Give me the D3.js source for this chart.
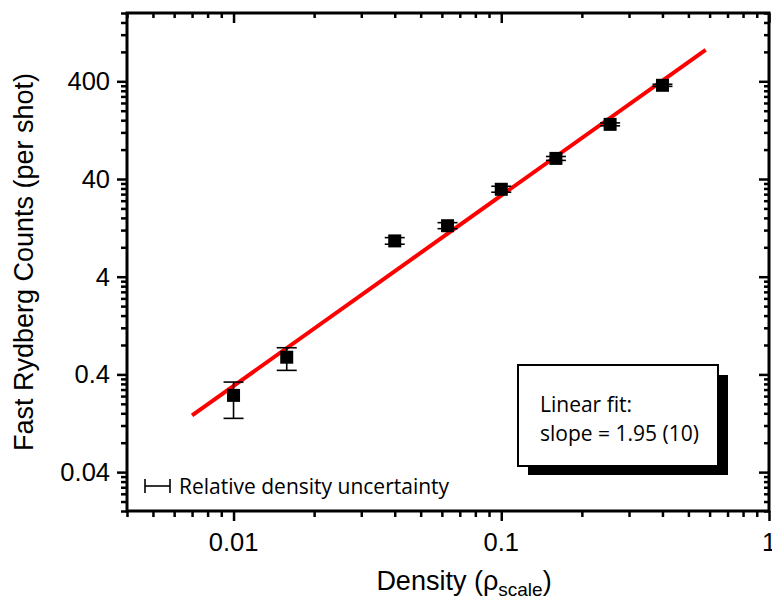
<!DOCTYPE html>
<head>
  <meta charset="utf-8">
  <script src="https://d3js.org/d3.v7.min.js"></script>
  <style>
    body { margin: 0; background: #fff; }
    svg { display: block; }
    .tick-label { font-family: "Liberation Sans", Arial, sans-serif; font-size: 25.5px; fill: #000; }
    .title { font-family: "Liberation Sans", Arial, sans-serif; font-size: 27px; fill: #000; }
    .note { font-family: "Open Sans", sans-serif; font-size: 21px; fill: #000; }
  </style>
</head>

<body>
  <svg width="772" height="600"></svg>
  <script>
    // data
    var density = [0.01, 0.0158, 0.04, 0.063, 0.1, 0.16, 0.255, 0.40];
    var counts  = [0.244, 0.60, 9.3, 13.3, 31.4, 65, 145, 364];
    var errLow  = [0.142, 0.44, 8.6, 12.4, 29.3, 62, 140, 355];
    var errHigh = [0.334, 0.75, 10.05, 14.3, 33.7, 68, 150, 373];

    // linear fit on log-log: counts = amp * density^slope
    var fitSlope = 1.95;
    var fitAmp = 2420;
    var fitRange = [0.007, 0.58];

    // ticks
    var xMajor = [0.01, 0.1, 1];
    var xLabels = ["0.01", "0.1", "1"];
    var yMajor = [0.04, 0.4, 4, 40, 400];
    var yLabels = ["0.04", "0.4", "4", "40", "400"];

    // layout
    var margin = {top: 13, right: 3, bottom: 89, left: 127};
    var width = 772, height = 600;

    var x = d3.scaleLog().domain([0.004, 1]).range([margin.left, width - margin.right]);
    var y = d3.scaleLog().domain([0.016, 2000]).range([height - margin.bottom, margin.top]);

    // minor ticks: multiples of each decade
    var xMinor = [];
    [0.001, 0.01, 0.1].forEach(function(b) {
      for (var k = 2; k <= 9; k++) xMinor.push(b * k);
    });
    xMinor = xMinor.filter(function(v) { return v >= 0.004 && v <= 1; });
    var yMinor = [];
    [0.004, 0.04, 0.4, 4, 40, 400].forEach(function(b) {
      for (var k = 2; k <= 9; k++) yMinor.push(b * k);
    });
    yMinor = yMinor.filter(function(v) { return v >= 0.0159 && v <= 2001 && yMajor.indexOf(+v.toPrecision(6)) < 0; });

    var svg = d3.select('svg');
    var x0 = margin.left, x1 = width - margin.right;
    var y0 = height - margin.bottom, y1 = margin.top;

    // axes
    function tickAxis(axis, scale, vals, size) {
      return axis(scale).tickValues(vals).tickSize(size).tickFormat('');
    }
    function styleAxis(g) {
      g.select('.domain').remove();
      g.selectAll('.tick line').attr('stroke', '#000').attr('stroke-width', 2.5);
    }
    svg.append('g').attr('transform', 'translate(0,' + y0 + ')')
      .call(tickAxis(d3.axisBottom, x, xMinor, 6)).call(styleAxis);
    svg.append('g').attr('transform', 'translate(0,' + y0 + ')')
      .call(tickAxis(d3.axisBottom, x, xMajor, 10)).call(styleAxis);
    svg.append('g').attr('transform', 'translate(0,' + y1 + ')')
      .call(tickAxis(d3.axisBottom, x, xMinor, 5)).call(styleAxis);
    svg.append('g').attr('transform', 'translate(0,' + y1 + ')')
      .call(tickAxis(d3.axisBottom, x, xMajor, 10)).call(styleAxis);
    svg.append('g').attr('transform', 'translate(' + x0 + ',0)')
      .call(tickAxis(d3.axisLeft, y, yMinor, 6)).call(styleAxis);
    svg.append('g').attr('transform', 'translate(' + x0 + ',0)')
      .call(tickAxis(d3.axisLeft, y, yMajor, 10)).call(styleAxis);
    svg.append('g').attr('transform', 'translate(' + x1 + ',0)')
      .call(tickAxis(d3.axisLeft, y, yMinor, 5)).call(styleAxis);
    svg.append('g').attr('transform', 'translate(' + x1 + ',0)')
      .call(tickAxis(d3.axisLeft, y, yMajor, 10)).call(styleAxis);

    // frame
    svg.append('rect')
      .attr('x', x0).attr('y', y1)
      .attr('width', x1 - x0).attr('height', y0 - y1)
      .attr('fill', 'none').attr('stroke', '#000').attr('stroke-width', 3);

    // tick labels
    svg.selectAll('.xl').data(xMajor).enter().append('text')
      .attr('class', 'tick-label')
      .attr('x', function(d) { return x(d); })
      .attr('y', y0 + 40)
      .attr('text-anchor', 'middle')
      .text(function(d, i) { return xLabels[i]; });
    svg.selectAll('.yl').data(yMajor).enter().append('text')
      .attr('class', 'tick-label')
      .attr('x', x0 - 17)
      .attr('y', function(d) { return y(d) + 9; })
      .attr('text-anchor', 'end')
      .text(function(d, i) { return yLabels[i]; });

    // axis titles
    var xt = svg.append('text').attr('class', 'title')
      .attr('x', 464).attr('y', 590).attr('text-anchor', 'middle');
    xt.append('tspan').text('Density (\u03c1');
    xt.append('tspan').attr('font-size', '19px').attr('dy', 6).text('scale');
    xt.append('tspan').attr('dy', -6).text(')');

    svg.append('text').attr('class', 'title')
      .attr('transform', 'translate(33,' + (y0 + y1) / 2 + ') rotate(-90)')
      .attr('text-anchor', 'middle')
      .text('Fast Rydberg Counts (per shot)');

    // fit line
    var fitLine = d3.line()
      .x(function(d) { return x(d); })
      .y(function(d) { return y(fitAmp * Math.pow(d, fitSlope)); });
    svg.append('path')
      .datum(fitRange)
      .attr('d', fitLine)
      .attr('fill', 'none')
      .attr('stroke', '#ff0000')
      .attr('stroke-width', 4);

    // error bars
    var pts = density.map(function(d, i) {
      return {x: d, y: counts[i], lo: errLow[i], hi: errHigh[i]};
    });
    var eb = svg.append('g').attr('stroke', '#000').attr('stroke-width', 1.6);
    pts.forEach(function(p) {
      var cx = x(p.x);
      eb.append('line').attr('x1', cx).attr('x2', cx).attr('y1', y(p.lo)).attr('y2', y(p.hi));
      eb.append('line').attr('x1', cx - 10).attr('x2', cx + 10).attr('y1', y(p.lo)).attr('y2', y(p.lo));
      eb.append('line').attr('x1', cx - 10).attr('x2', cx + 10).attr('y1', y(p.hi)).attr('y2', y(p.hi));
    });

    // markers
    svg.selectAll('.pt').data(pts).enter().append('rect')
      .attr('x', function(d) { return x(d.x) - 6.5; })
      .attr('y', function(d) { return y(d.y) - 6.5; })
      .attr('width', 13).attr('height', 13)
      .attr('fill', '#000');

    // legend for density uncertainty
    var lg = svg.append('g').attr('stroke', '#000').attr('stroke-width', 1.6);
    lg.append('line').attr('x1', 145).attr('x2', 170).attr('y1', 486).attr('y2', 486);
    lg.append('line').attr('x1', 145).attr('x2', 145).attr('y1', 479).attr('y2', 493);
    lg.append('line').attr('x1', 170).attr('x2', 170).attr('y1', 479).attr('y2', 493);
    svg.append('text').attr('class', 'note')
      .attr('x', 179).attr('y', 494)
      .text('Relative density uncertainty');

    // fit annotation box
    svg.append('rect').attr('x', 528).attr('y', 375).attr('width', 200).attr('height', 100).attr('fill', '#000');
    svg.append('rect').attr('x', 518).attr('y', 365).attr('width', 200).attr('height', 101)
      .attr('fill', '#fff').attr('stroke', '#000').attr('stroke-width', 2);
    svg.append('text').attr('class', 'note').attr('x', 540).attr('y', 412).text('Linear fit:');
    svg.append('text').attr('class', 'note').attr('x', 540).attr('y', 441)
      .text('slope = ' + fitSlope.toFixed(2) + ' (10)');
  </script>
</body>
</html>
